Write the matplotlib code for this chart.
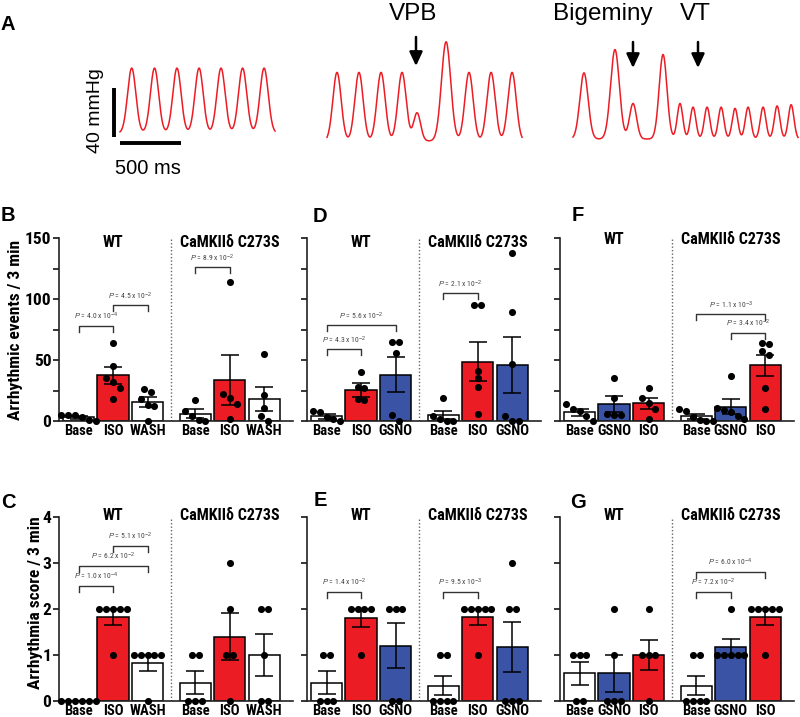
import numpy as np
import matplotlib
matplotlib.use("Agg")  # non-interactive backend
import matplotlib.pyplot as plt
from matplotlib import font_manager as fm


def pick_bold_condensed():
    """First condensed family that has a bold face installed."""
    bold = set()
    for f in fm.fontManager.ttflist:
        w = f.weight if isinstance(f.weight, int) else fm.weight_dict.get(f.weight, 400)
        if w >= 700:
            bold.add(f.name)
    for cand in ["Liberation Sans Narrow", "Arial Narrow", "Roboto Condensed",
                 "PT Sans Narrow", "Fira Sans Condensed", "IBM Plex Sans Condensed",
                 "Asap Condensed", "Encode Sans Condensed", "Barlow Semi Condensed",
                 "Encode Sans Semi Condensed"]:
        if cand in bold:
            return cand
    return "Liberation Sans"


COND = pick_bold_condensed()
NARROW = [COND, "Liberation Sans", "DejaVu Sans"]
ARIAL = ["Liberation Sans", "DejaVu Sans"]
plt.rcParams["font.family"] = NARROW
plt.rcParams["mathtext.fontset"] = "custom"
plt.rcParams["mathtext.rm"] = "Liberation Sans"
plt.rcParams["mathtext.it"] = "Liberation Sans:italic"

# ---------------- data ----------------
# Panel A: pressure traces, beats as (time ms, peak mmHg above baseline, width ms)
t1_ms = [96, 283, 467, 648, 828, 1005, 1181]
t1_mmhg = [53, 53, 53, 53, 53, 53, 53]
t1_w = [34, 34, 34, 34, 34, 34, 34]
t1_len = 1271

t2_ms = [82, 262, 443, 615, 738, 976, 1164, 1345, 1517]
t2_mmhg = [56, 56, 56, 56, 23, 81, 56, 56, 56]
t2_w = [34, 34, 34, 34, 29, 38, 34, 34, 34]
t2_len = 1599

t3_ms = [90, 344, 492, 738, 877, 984, 1099, 1214, 1328, 1435, 1558, 1673, 1788]
t3_mmhg = [54, 73, 29, 69, 29, 26, 26, 26, 25, 26, 26, 27, 28]
t3_w = [34, 36, 29, 32, 23, 23, 23, 23, 23, 23, 23, 23, 23]
t3_len = 1845

events = ["VPB", "Bigeminy", "VT"]

# Bar panels
lab_wash = ["Base", "ISO", "WASH", "Base", "ISO", "WASH"]
lab_iso_gsno = ["Base", "ISO", "GSNO", "Base", "ISO", "GSNO"]
lab_gsno_iso = ["Base", "GSNO", "ISO", "Base", "GSNO", "ISO"]

mean_B = [3, 37.4, 15.5, 6, 33.5, 18]
sem_B = [1, 7, 4, 3.5, 20.5, 10]
pts_B = [[5, 5, 5, 3, 1, 0], [64, 45, 35, 32, 27, 18], [26, 24, 18, 13, 12, 0],
         [17, 8, 4, 1, 0], [114, 22, 19, 14, 2], [55, 21, 11, 4, 0]]
cmp_B = [(0, 1, "4.0", "-4"), (1, 2, "4.5", "-2"), (3, 4, "8.9", "-2")]

mean_D = [4, 25.5, 38, 5, 48.5, 46]
sem_D = [2, 5.5, 14.5, 3.5, 16, 23]
pts_D = [[8, 7, 3, 2, 0], [40, 28, 27, 18, 17], [65, 65, 56, 5, 0],
         [19, 4, 2, 0, 0], [95, 95, 41, 35, 28, 6], [138, 89, 47, 4, 0, 0]]
cmp_D = [(0, 1, "4.3", "-2"), (0, 2, "5.6", "-2"), (3, 4, "2.1", "-2")]

mean_F = [7, 14, 14.5, 3.7, 11.7, 45.5]
sem_F = [2.5, 6.3, 4.5, 1.8, 6, 8.5]
pts_F = [[14, 10, 8, 4, 0], [35, 19, 6, 5, 5], [27, 19, 15, 10, 2],
         [10, 8, 3, 1, 0, 0], [37, 11, 9, 7, 4, 2], [64, 63, 57, 54, 27, 10]]
cmp_F = [(3, 5, "1.1", "-3"), (4, 5, "3.4", "-2")]

mean_C = [0, 1.83, 0.83, 0.4, 1.4, 1.0]
sem_C = [0, 0.17, 0.17, 0.245, 0.51, 0.45]
pts_C = [[0, 0, 0, 0, 0, 0], [2, 2, 2, 2, 2, 1], [1, 1, 1, 1, 1, 0],
         [1, 1, 0, 0, 0], [3, 2, 1, 1, 0], [2, 2, 1, 0, 0]]
cmp_C = [(0, 1, "1.0", "-4"), (0, 2, "6.2", "-2"), (1, 2, "5.1", "-2")]

mean_E = [0.4, 1.8, 1.2, 0.33, 1.83, 1.17]
sem_E = [0.245, 0.2, 0.49, 0.21, 0.167, 0.54]
pts_E = [[1, 1, 0, 0, 0], [2, 2, 2, 2, 1], [2, 2, 2, 0, 0],
         [1, 1, 0, 0, 0, 0], [2, 2, 2, 2, 2, 1], [3, 2, 2, 0, 0, 0]]
cmp_E = [(0, 1, "1.4", "-2"), (3, 4, "9.5", "-3")]

mean_G = [0.6, 0.6, 1.0, 0.33, 1.17, 1.83]
sem_G = [0.245, 0.4, 0.316, 0.21, 0.167, 0.167]
pts_G = [[1, 1, 1, 0, 0], [2, 1, 0, 0, 0], [2, 1, 1, 1, 0],
         [1, 1, 0, 0, 0, 0], [2, 1, 1, 1, 1, 1], [2, 2, 2, 2, 2, 1]]
cmp_G = [(3, 4, "7.2", "-2"), (3, 5, "6.0", "-4")]

# ---------------- layout ----------------
W, H = 800, 717
RED = "#ec1c24"
BLUE = "#3a53a4"
COLORS = {"Base": "white", "WASH": "white", "ISO": RED, "GSNO": BLUE}
X = np.array([0, 1, 2, 3.38, 4.38, 5.38])
DIV = 2.69

fig = plt.figure(figsize=(W / 100, H / 100), dpi=100)


def fx(x):
    return x / W


def fy(y):
    return 1 - y / H


# Panel A
MS_PX = 500 / 61
MM_PX = 40 / 49
axA = fig.add_axes([0, fy(180), 1, 180 / H])
axA.set_xlim(-120 * MS_PX, 680 * MS_PX)
axA.set_ylim(-47 * MM_PX, 133 * MM_PX)
axA.axis("off")

traces = [(t1_ms, t1_mmhg, t1_w, t1_len), (t2_ms, t2_mmhg, t2_w, t2_len),
          (t3_ms, t3_mmhg, t3_w, t3_len)]
starts = [(120, 133), (327, 141), (573, 139)]  # pixel start / baseline
for (bt, bp, bw, length), (x0, y0) in zip(traces, starts):
    t = np.linspace(0, length, 1500)
    p = np.zeros_like(t)
    for tb, pb, wb in zip(bt, bp, bw):
        p += pb * np.exp(-0.5 * ((t - tb) / wb) ** 2)
    axA.plot(t + (x0 - 120) * MS_PX, p + (133 - y0) * MM_PX, color=RED, lw=1.1)

# scale bars
axA.plot([-6 * MS_PX] * 2, [-4 * MM_PX, -4 * MM_PX + 40], color="k", lw=2.8,
         solid_capstyle="butt")
axA.plot([0, 500], [-10 * MM_PX] * 2, color="k", lw=2.8, solid_capstyle="butt")
fig.text(fx(95), fy(111), "40 mmHg", rotation=90, ha="center", va="center",
         fontsize=14, family=ARIAL)
fig.text(fx(148), fy(168), "500 ms", ha="center", va="center", fontsize=14.5,
         family=ARIAL)

for label, xc, xa, ya0, ya1 in zip(events, [413, 603, 695], [416, 633, 698],
                                   [37, 42, 42], [66, 68, 68]):
    fig.text(fx(xc), fy(14), label, ha="center", va="center", fontsize=17.5,
             family=ARIAL)
    axA.annotate("", xy=(fx(xa), fy(ya1)), xycoords="figure fraction",
                 xytext=(fx(xa), fy(ya0)), textcoords="figure fraction",
                 arrowprops=dict(arrowstyle="-|>,head_length=0.6,head_width=0.28",
                                 color="k", lw=1.8, shrinkA=0, shrinkB=0,
                                 mutation_scale=14))


def swarm(vals, thr, step):
    """Spread points with similar values side by side."""
    v = np.asarray(vals, float)
    order = np.argsort(-v, kind="stable")
    offs = np.zeros(len(v))
    groups, group = [], [order[0]]
    for i in order[1:]:
        if v[group[-1]] - v[i] < thr:
            group.append(i)
        else:
            groups.append(group)
            group = [i]
    groups.append(group)
    for g in groups:
        for j, idx in enumerate(g):
            offs[idx] = (j - (len(g) - 1) / 2) * step
    return offs


def bar_panel(L, top, bottom, ymax, ystep, labelled, labels, means, sems, pts,
              cmps, levels, thr, title_y):
    ax = fig.add_axes([fx(L), fy(bottom), 234 / W, (bottom - top) / H])
    ax.set_xlim(-19.5 / 34.5, 214.5 / 34.5)
    ax.set_ylim(0, ymax)
    colors = [COLORS[l] for l in labels]
    ax.bar(X, means, width=0.9, color=colors, edgecolor="k", lw=1.1, zorder=2)
    ax.errorbar(X, means, yerr=sems, fmt="none", ecolor="k", elinewidth=1.1,
                capsize=6.5, capthick=1.1, zorder=3)
    for xi, p in zip(X, pts):
        ax.scatter(xi + swarm(p, thr, 0.2), p, s=26, color="k", zorder=4,
                   clip_on=False, linewidths=0)
    ax.plot([DIV, DIV], [0, ymax], ls=(0, (1, 1.5)), color="#666", lw=1)

    unit = ymax / (bottom - top)  # data units per pixel
    for (i, j, m, e), lv in zip(cmps, levels):
        d = 6 * unit
        ax.plot([X[i], X[i], X[j], X[j]], [lv - d, lv, lv, lv - d],
                color="#333", lw=1)
        ax.text((X[i] + X[j]) / 2, lv + 9 * unit, f"$P$ = {m} x 10$^{{{e}}}$",
                ha="center", va="center", fontsize=5.5, color="#444")

    tr = ax.get_xaxis_transform()
    ax.text(X[1], title_y, "WT", transform=tr, ha="center", va="center",
            fontsize=11.5, fontweight="bold")
    ax.text(X[4], title_y, "CaMKIIδ C273S", transform=tr, ha="center",
            va="center", fontsize=11.5, fontweight="bold")

    for s in ["top", "right"]:
        ax.spines[s].set_visible(False)
    for s in ["left", "bottom"]:
        ax.spines[s].set_linewidth(1.2)
        ax.spines[s].set_color("#222")

    yt = np.arange(0, ymax + ystep / 2, ystep)
    ax.set_yticks(yt)
    if labelled:
        ax.set_yticklabels([f"{v:g}" if v % labelled == 0 else "" for v in yt],
                           fontsize=12.5, fontweight="bold")
    else:
        ax.set_yticklabels([])
    ax.set_xticks(X)
    ax.set_xticklabels(labels, fontsize=10.5, fontweight="bold")
    ax.tick_params(axis="y", direction="out", length=4, width=1.1, pad=1.5)
    ax.tick_params(axis="x", length=0, pad=2)
    return ax


bar_panel(59, 238, 421, 150, 25, 50, lab_wash, mean_B, sem_B, pts_B,
          cmp_B, [78, 95, 126], 6, 0.975)
bar_panel(307, 238, 421, 150, 25, 0, lab_iso_gsno, mean_D, sem_D, pts_D,
          cmp_D, [58.7, 78.7, 105], 6, 0.978)
bar_panel(560, 238, 421, 150, 25, 0, lab_gsno_iso, mean_F, sem_F, pts_F,
          cmp_F, [87.7, 72.4], 6, 0.99)
bar_panel(59, 517, 701, 4, 1, 1, lab_wash, mean_C, sem_C, pts_C,
          cmp_C, [2.51, 2.94, 3.38], 0.15, 1.01)
bar_panel(307, 517, 701, 4, 1, 0, lab_iso_gsno, mean_E, sem_E, pts_E,
          cmp_E, [2.38, 2.38], 0.15, 1.01)
bar_panel(560, 517, 701, 4, 1, 0, lab_gsno_iso, mean_G, sem_G, pts_G,
          cmp_G, [2.38, 2.81], 0.15, 1.01)

fig.text(fx(16), fy(330), "Arrhythmic events / 3 min", rotation=90,
         ha="center", va="center", fontsize=12.5, fontweight="bold")
fig.text(fx(36), fy(603), "Arrhythmia score / 3 min", rotation=90,
         ha="center", va="center", fontsize=12.5, fontweight="bold")

for letter, x, y in [("A", 8, 25), ("B", 8, 215), ("D", 320, 217),
                     ("F", 578, 215), ("C", 8, 502), ("E", 320, 500),
                     ("G", 578, 502)]:
    fig.text(fx(x), fy(y), letter, ha="center", va="center", fontsize=14.5,
             fontweight="bold", family=ARIAL)

fig.savefig("out.png", dpi=100)
